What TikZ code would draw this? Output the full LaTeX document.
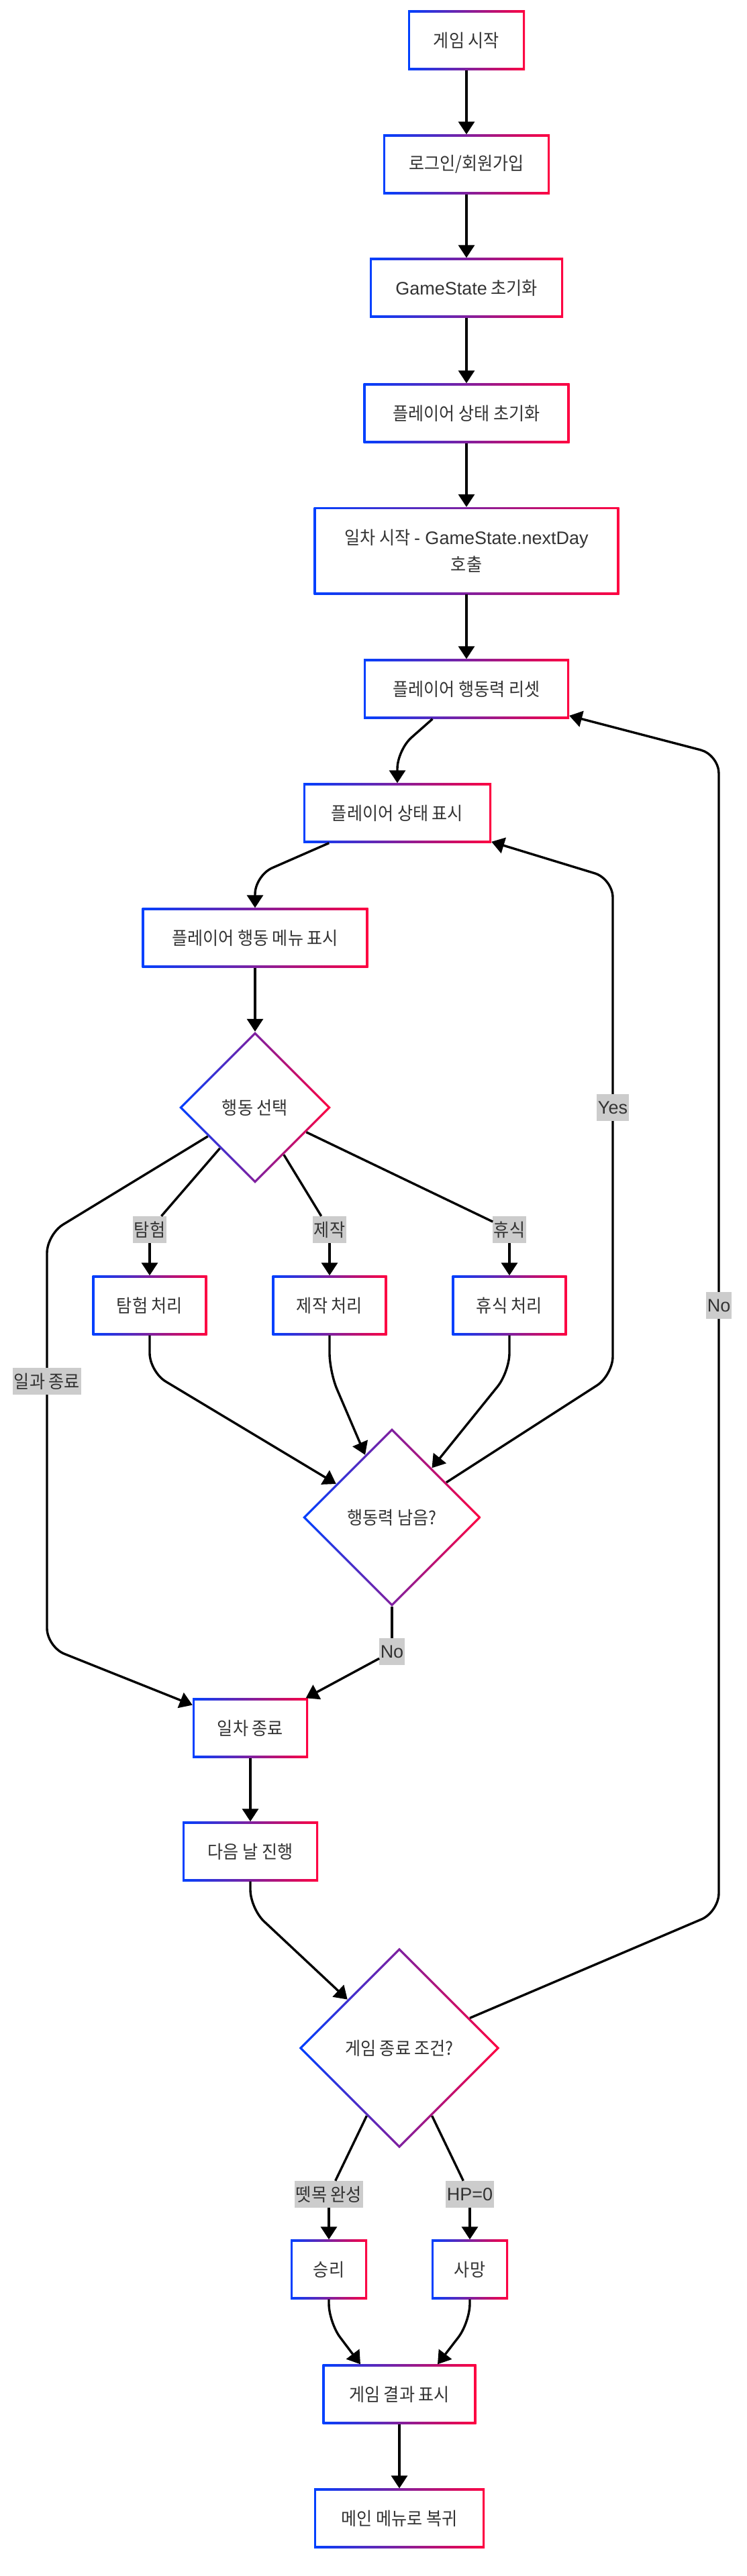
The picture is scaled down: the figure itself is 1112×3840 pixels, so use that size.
\documentclass[tikz,border=0pt]{standalone}
\usepackage{fontspec}
\setmainfont{Liberation Sans}
\newfontfamily\krfont[FakeStretch=0.93]{Noto Sans CJK KR}
\usetikzlibrary{arrows.meta,shapes.geometric,calc}
\definecolor{gblue}{HTML}{0040FF}
\definecolor{gred}{HTML}{FF0040}
\definecolor{txtgray}{HTML}{333333}
\definecolor{lblgray}{HTML}{CCCCCC}
\newcommand{\lat}[1]{{\rmfamily #1}}

\begin{document}
\begin{tikzpicture}[x=1pt,y=-1pt,
    every node/.style={font=\krfont\fontsize{27}{40}\selectfont,text=txtgray},
    proc/.style={rectangle,left color=gblue,right color=gred,inner sep=0pt,minimum height=89pt,align=center,
        path picture={\fill[white] ([shift={(3.4pt,3.4pt)}]path picture bounding box.south west) rectangle ([shift={(-3.4pt,-3.4pt)}]path picture bounding box.north east);}},
    dec/.style={diamond,aspect=1,left color=gblue,right color=gred,inner sep=0pt,
        path picture={\fill[white] ($(path picture bounding box.north)+(0,-4.8pt)$) -- ($(path picture bounding box.east)+(-4.8pt,0)$) -- ($(path picture bounding box.south)+(0,4.8pt)$) -- ($(path picture bounding box.west)+(4.8pt,0)$) -- cycle;}},
    lbl/.style={fill=lblgray,inner xsep=1.5pt,inner ysep=0pt,minimum height=40pt},
    link/.style={line width=3.4pt,rounded corners=28pt},
    arr/.style={link,-{Triangle[length=19pt,width=24pt]}}]
            \path[use as bounding box,fill=white] (0,0) rectangle (1112,3840);

            \node[proc,minimum width=174pt] (start) at (695,60) {게임 시작};
            \node[proc,minimum width=248pt] (login) at (695,245) {로그인/회원가입};
            \node[proc,minimum width=288pt] (init) at (695,429) {\lat{GameState} 초기화};
            \node[proc,minimum width=307pt] (pinit) at (695,616) {플레이어 상태 초기화};
            \node[proc,minimum width=455pt,minimum height=130pt] (day) at (695,821) {일차 시작 \lat{- GameState.nextDay}\\호출};
            \node[proc,minimum width=306pt] (reset) at (695,1027) {플레이어 행동력 리셋};
            \node[proc,minimum width=280pt] (status) at (592,1212) {플레이어 상태 표시};
            \node[proc,minimum width=337pt] (menu) at (380,1398) {플레이어 행동 메뉴 표시};
            \node[dec,minimum size=226pt] (choose) at (380,1651) {행동 선택};

            \node[lbl] (lexplore) at (223,1833) {탐험};
            \node[lbl] (lcraft) at (491,1833) {제작};
            \node[lbl] (lrest) at (759,1833) {휴식};
            \node[lbl] (lend) at (70,2059) {일과 종료};

            \node[proc,minimum width=171pt] (explore) at (223,1946) {탐험 처리};
            \node[proc,minimum width=171pt] (craft) at (491,1946) {제작 처리};
            \node[proc,minimum width=171pt] (rest) at (759,1946) {휴식 처리};

            \node[dec,minimum size=266pt] (left) at (584,2262) {행동력 남음?};
            \node[lbl] (lyes) at (913,1651) {\lat{Yes}};
            \node[lbl] (lno) at (584,2462) {\lat{No}};

            \node[proc,minimum width=172pt] (dayend) at (373,2576) {일차 종료};
            \node[proc,minimum width=202pt] (next) at (373,2760) {다음 날 진행};

            \node[dec,minimum size=299pt] (over) at (595,3053) {게임 종료 조건?};
            \node[lbl] (lnoloop) at (1071,1946) {\lat{No}};
            \node[lbl] (lraft) at (490,3271) {뗏목 완성};
            \node[lbl] (lhp) at (700,3271) {\lat{HP=0}};

            \node[proc,minimum width=114pt] (win) at (490,3383) {승리};
            \node[proc,minimum width=114pt] (dead) at (700,3383) {사망};
            \node[proc,minimum width=229pt] (result) at (595,3569) {게임 결과 표시};
            \node[proc,minimum width=254pt] (back) at (595,3754) {메인 메뉴로 복귀};

            \draw[arr] (start) -- (login);
            \draw[arr] (login) -- (init);
            \draw[arr] (init) -- (pinit);
            \draw[arr] (pinit) -- (day);
            \draw[arr] (day) -- (reset);
            \draw[arr] (reset) -- (592,1118) -- (status);
            \draw[arr] (status) -- (380,1305) -- (menu);
            \draw[arr] (menu) -- (choose);

            \draw[link] (choose) -- (lexplore);
            \draw[arr] (lexplore) -- (explore);
            \draw[link] (choose) -- (lcraft);
            \draw[arr] (lcraft) -- (craft);
            \draw[link] (choose) -- (lrest);
            \draw[arr] (lrest) -- (rest);
            \draw[link] (choose) -- (70,1840) -- (lend);
            \draw[arr] (lend) -- (70,2455) -- (dayend);

            \draw[arr] (explore) -- (223,2045) -- (left);
            \draw[arr] (craft) -- (491,2045) -- (left);
            \draw[arr] (rest) -- (759,2045) -- (left);
            \draw[link] (left) -- (913,2050) -- (lyes);
            \draw[arr] (lyes) -- (913,1310) -- (status);
            \draw[link] (left) -- (lno);
            \draw[arr] (lno) -- (dayend);

            \draw[arr] (dayend) -- (next);
            \draw[arr] (next) -- (373,2845) -- (over);
            \draw[link] (over) -- (1071,2850) -- (lnoloop);
            \draw[arr] (lnoloop) -- (1071,1125) -- (reset);
            \draw[link] (over) -- (lraft);
            \draw[arr] (lraft) -- (win);
            \draw[link] (over) -- (lhp);
            \draw[arr] (lhp) -- (dead);
            \draw[arr] (win) -- (490,3462) -- ([xshift=-58pt]result.north);
            \draw[arr] (dead) -- (700,3462) -- ([xshift=57pt]result.north);
            \draw[arr] (result) -- (back);
        \end{tikzpicture}
\end{document}
